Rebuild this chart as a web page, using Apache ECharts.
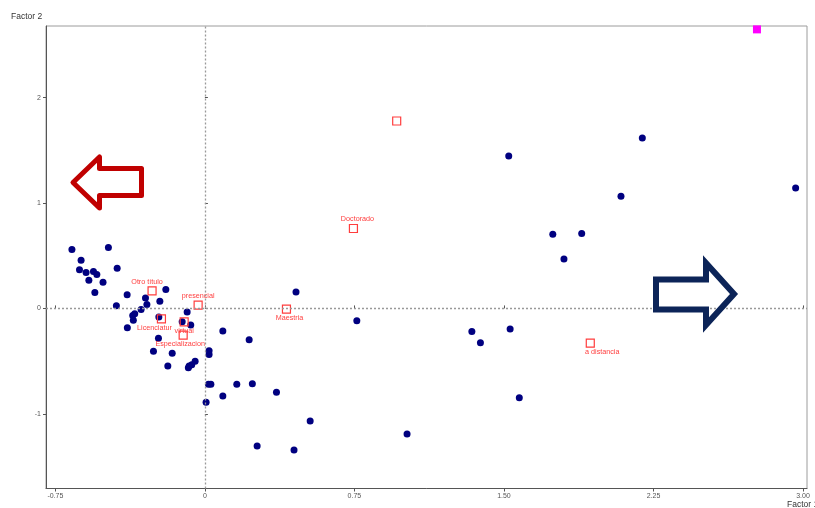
<!DOCTYPE html>
<html>
<head>
<meta charset="utf-8">
<script src="https://cdn.jsdelivr.net/npm/echarts@6/dist/echarts.min.js"></script>
<style>
  html, body { margin: 0; padding: 0; background: #fff; }
  #chart { width: 815px; height: 508px; }
</style>
</head>
<body>
<div id="chart"></div>
<script>
// Axis ticks
const xTickValues = [-0.75, 0, 0.75, 1.5, 2.25, 3];
const xTickLabels = ['-0.75', '0', '0.75', '1.50', '2.25', '3.00'];
const yTickValues = [-1, 0, 1, 2];
const yTickLabels = ['-1', '0', '1', '2'];

// Observations (Factor 1, Factor 2)
const obsX = [-0.667, -0.484, -0.621, -0.629, -0.596, -0.559, -0.542, -0.582, -0.511, -0.440,
              -0.552, -0.390, -0.298, -0.196, -0.226, -0.444, -0.291, -0.320, -0.352, -0.362,
              -0.359, -0.389, -0.231, -0.089, -0.114, -0.071, 0.090, -0.258, -0.164, 0.021,
              0.021, -0.186, -0.049, -0.066, -0.079, -0.083, 0.018, 0.030, 0.160, 0.238,
              0.222, 0.359, 0.090, 0.006, 0.528, 0.262, 0.447, 0.457, 0.762, 1.014,
              1.339, 1.382, 1.531, 1.577, 1.524, 2.194, 2.963, 2.087, 1.745, 1.890,
              1.801, -0.233];
const obsY = [0.559, 0.578, 0.458, 0.366, 0.341, 0.351, 0.322, 0.268, 0.249, 0.382,
              0.152, 0.129, 0.100, 0.180, 0.069, 0.025, 0.038, -0.009, -0.051, -0.066,
              -0.111, -0.184, -0.082, -0.035, -0.127, -0.158, -0.215, -0.405, -0.424, -0.402,
              -0.438, -0.547, -0.500, -0.533, -0.547, -0.563, -0.718, -0.718, -0.720, -0.715,
              -0.298, -0.796, -0.831, -0.891, -1.068, -1.305, -1.343, 0.155, -0.118, -1.191,
              -0.218, -0.326, -0.196, -0.847, 1.446, 1.617, 1.143, 1.064, 0.704, 0.711,
              0.470, -0.282];

// Category points
const catNames = ['Otro título', 'presencial', 'Licenciatur', 'virtual', 'Especializacion',
                  'Maestria', 'Doctorado', '', 'a distancia'];
const catX = [-0.265, -0.034, -0.218, -0.104, -0.109, 0.409, 0.745, 0.962, 1.933];
const catY = [0.167, 0.031, -0.099, -0.127, -0.253, -0.007, 0.758, 1.778, -0.329];

// Supplementary point
const suppX = [2.769];
const suppY = [2.647];

// Label placement for the category names: [side, horizontal shift in px]
const labelPlacement = {
  'Otro título': ['top', -5],
  'presencial': ['top', 0],
  'Licenciatur': ['bottom', -7],
  'virtual': ['bottom', 0],
  'Especializacion': ['bottom', -3],
  'Maestria': ['bottom', 3],
  'Doctorado': ['top', 4],
  'a distancia': ['bottom', 12]
};

const RED = '#ff3d3d';
const AXIS_FONT = "'Liberation Sans Narrow', 'Liberation Sans', Arial, sans-serif";

const obsData = obsX.map((x, i) => [x, obsY[i]]);
const catData = catX.map((x, i) => {
  const name = catNames[i];
  const place = labelPlacement[name];
  return {
    name: name,
    value: [x, catY[i]],
    label: place ? {
      show: true,
      position: place[0],
      offset: [place[1], 0],
      distance: 1
    } : { show: false }
  };
});
const suppData = suppX.map((x, i) => [x, suppY[i]]);

const chart = echarts.init(document.getElementById('chart'), null, { renderer: 'canvas' });

const xLabelOf = v => {
  const i = xTickValues.findIndex(t => Math.abs(t - v) < 1e-6);
  return i >= 0 ? xTickLabels[i] : '';
};
const yLabelOf = v => {
  const i = yTickValues.findIndex(t => Math.abs(t - v) < 1e-6);
  return i >= 0 ? yTickLabels[i] : '';
};

const xMin = -0.797, xMax = 3.02, yMin = -1.708, yMax = 2.679;

chart.setOption({
  animation: false,
  backgroundColor: '#fff',
  grid: {
    left: 46, right: 8, top: 26, bottom: 19.5,
    show: true, borderColor: '#9c9c9c', borderWidth: 1, backgroundColor: '#fff'
  },
  xAxis: [{
    type: 'value', min: xMin, max: xMax,
    axisLine: { show: true, onZero: false, lineStyle: { color: '#555', width: 1 } },
    axisTick: { show: true, length: 3, customValues: xTickValues, lineStyle: { color: '#555' } },
    axisLabel: {
      show: true, customValues: xTickValues, formatter: xLabelOf,
      fontSize: 7, color: '#555', fontFamily: AXIS_FONT, margin: 4
    },
    splitLine: { show: false }
  }, {
    type: 'value', min: xMin, max: xMax, position: 'bottom',
    axisLine: { show: false },
    axisTick: { show: true, inside: true, length: 3, customValues: xTickValues, lineStyle: { color: '#555' } },
    axisLabel: { show: false },
    splitLine: { show: false }
  }],
  yAxis: [{
    type: 'value', min: yMin, max: yMax,
    axisLine: { show: true, onZero: false, lineStyle: { color: '#555', width: 1 } },
    axisTick: { show: true, length: 3, customValues: yTickValues, lineStyle: { color: '#555' } },
    axisLabel: {
      show: true, customValues: yTickValues, formatter: yLabelOf,
      fontSize: 7, color: '#555', fontFamily: AXIS_FONT, margin: 5
    },
    splitLine: { show: false }
  }, {
    type: 'value', min: yMin, max: yMax, position: 'left',
    axisLine: { show: false },
    axisTick: { show: true, inside: true, length: 3, customValues: yTickValues, lineStyle: { color: '#555' } },
    axisLabel: { show: false },
    splitLine: { show: false }
  }],
  series: [{
    name: 'Observaciones',
    type: 'scatter',
    data: obsData,
    symbol: 'circle',
    symbolSize: 7,
    itemStyle: { color: '#000080', opacity: 1 },
    markLine: {
      silent: true,
      symbol: ['none', 'none'],
      label: { show: false },
      lineStyle: { color: '#999', type: [2, 2], width: 1.3 },
      data: [{ xAxis: 0 }, { yAxis: 0 }]
    },
    z: 2
  }, {
    name: 'Categorías',
    type: 'scatter',
    data: catData,
    symbol: 'rect',
    symbolSize: 8,
    itemStyle: { color: 'rgba(255,255,255,0)', borderColor: RED, borderWidth: 1.2, opacity: 1 },
    label: {
      formatter: '{b}',
      color: RED,
      fontSize: 7.2,
      fontFamily: "'Liberation Sans', Arial, sans-serif"
    },
    z: 3
  }, {
    name: 'Suplementario',
    type: 'scatter',
    data: suppData,
    symbol: 'rect',
    symbolSize: 8,
    itemStyle: { color: '#ff00ff', opacity: 1 },
    z: 3
  }],
  graphic: [{
    type: 'text', left: 11, top: 12,
    style: { text: 'Factor 2', fontSize: 8.5, fill: '#333', fontFamily: "'Liberation Sans', Arial, sans-serif" }
  }, {
    type: 'text', left: 787, top: 500,
    style: { text: 'Factor 1', fontSize: 8.5, fill: '#333', fontFamily: "'Liberation Sans', Arial, sans-serif" }
  }, {
    // left-pointing arrow
    type: 'polygon', z: 10,
    shape: { points: [[73, 182.5], [99.5, 157], [99.5, 168.5], [141.5, 168.5], [141.5, 195.5], [99.5, 195.5], [99.5, 208]] },
    style: { fill: 'none', stroke: '#c00000', lineWidth: 5, lineJoin: 'round' }
  }, {
    // right-pointing arrow
    type: 'polygon', z: 10,
    shape: { points: [[656, 279.5], [706, 279.5], [706, 263], [734, 294], [706, 325], [706, 309.5], [656, 309.5]] },
    style: { fill: 'none', stroke: '#0c2458', lineWidth: 6, lineJoin: 'miter' }
  }]
});
</script>
</body>
</html>
